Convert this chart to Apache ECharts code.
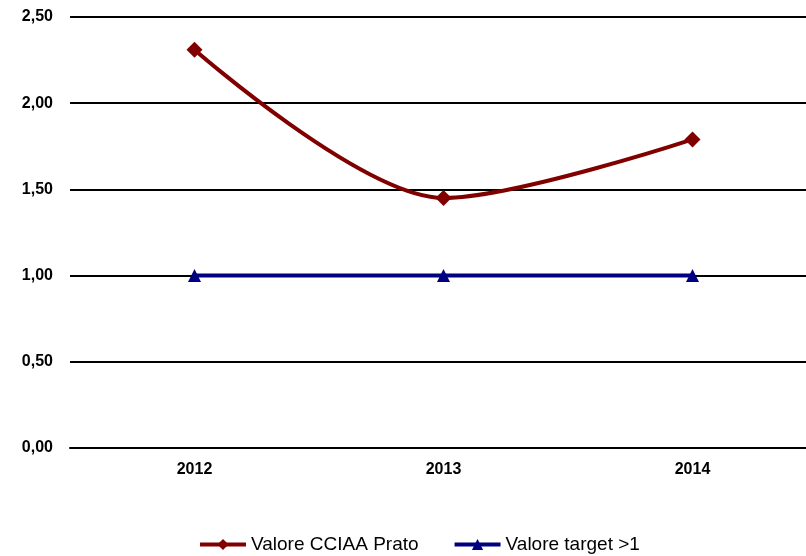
<!DOCTYPE html>
<html>
<head>
<meta charset="utf-8">
<script src="https://cdn.jsdelivr.net/npm/echarts@6/dist/echarts.min.js"></script>
<style>
  html, body { margin: 0; padding: 0; background: #fff; }
  #chart { width: 806px; height: 556px; }
</style>
</head>
<body>
<div id="chart"></div>
<script>
const years = ['2012', '2013', '2014']
const valoreCciaa = [2.31, 1.45, 1.79]
const valoreTarget = [1, 1, 1]
const yTicks = [0, 0.5, 1, 1.5, 2, 2.5]

const chart = echarts.init(document.getElementById('chart'), null, { renderer: 'canvas' })

const fontBase = {
  fontFamily: '"Liberation Sans", Arial, sans-serif',
  fontWeight: 'bold',
  fontSize: 16,
  color: '#000'
}

chart.setOption({
  animation: false,
  grid: {
    left: 70,
    top: 17,
    width: 747,
    height: 431,
    outerBoundsMode: 'none',
    containLabel: false
  },
  legend: {
    top: 530,
    left: 193,
    itemWidth: 46,
    itemHeight: 14,
    itemGap: 34,
    lineStyle: { width: 4 },
    textStyle: Object.assign({}, fontBase, { fontWeight: 'normal', fontSize: 19 }),
    data: ['Valore CCIAA Prato', 'Valore target >1']
  },
  xAxis: {
    type: 'category',
    data: years,
    boundaryGap: true,
    axisLine: { lineStyle: { color: '#000', width: 2 } },
    axisTick: { show: false },
    axisLabel: Object.assign({}, fontBase, { margin: 14 })
  },
  yAxis: {
    type: 'value',
    min: yTicks[0],
    max: yTicks[yTicks.length - 1],
    interval: 0.5,
    axisLine: { show: false },
    axisTick: { show: false },
    splitLine: { lineStyle: { color: '#000', width: 2 } },
    axisLabel: Object.assign({}, fontBase, {
      margin: 17,
      formatter: v => v.toFixed(2).replace('.', ',')
    })
  },
  series: [
    {
      name: 'Valore CCIAA Prato',
      type: 'line',
      data: valoreCciaa,
      smooth: 0.3,
      symbol: 'diamond',
      symbolSize: 16,
      lineStyle: { color: '#800000', width: 4 },
      itemStyle: { color: '#800000' }
    },
    {
      name: 'Valore target >1',
      type: 'line',
      data: valoreTarget,
      symbol: 'triangle',
      symbolSize: 13,
      lineStyle: { color: '#000080', width: 4 },
      itemStyle: { color: '#000080' }
    }
  ]
})
</script>
</body>
</html>
